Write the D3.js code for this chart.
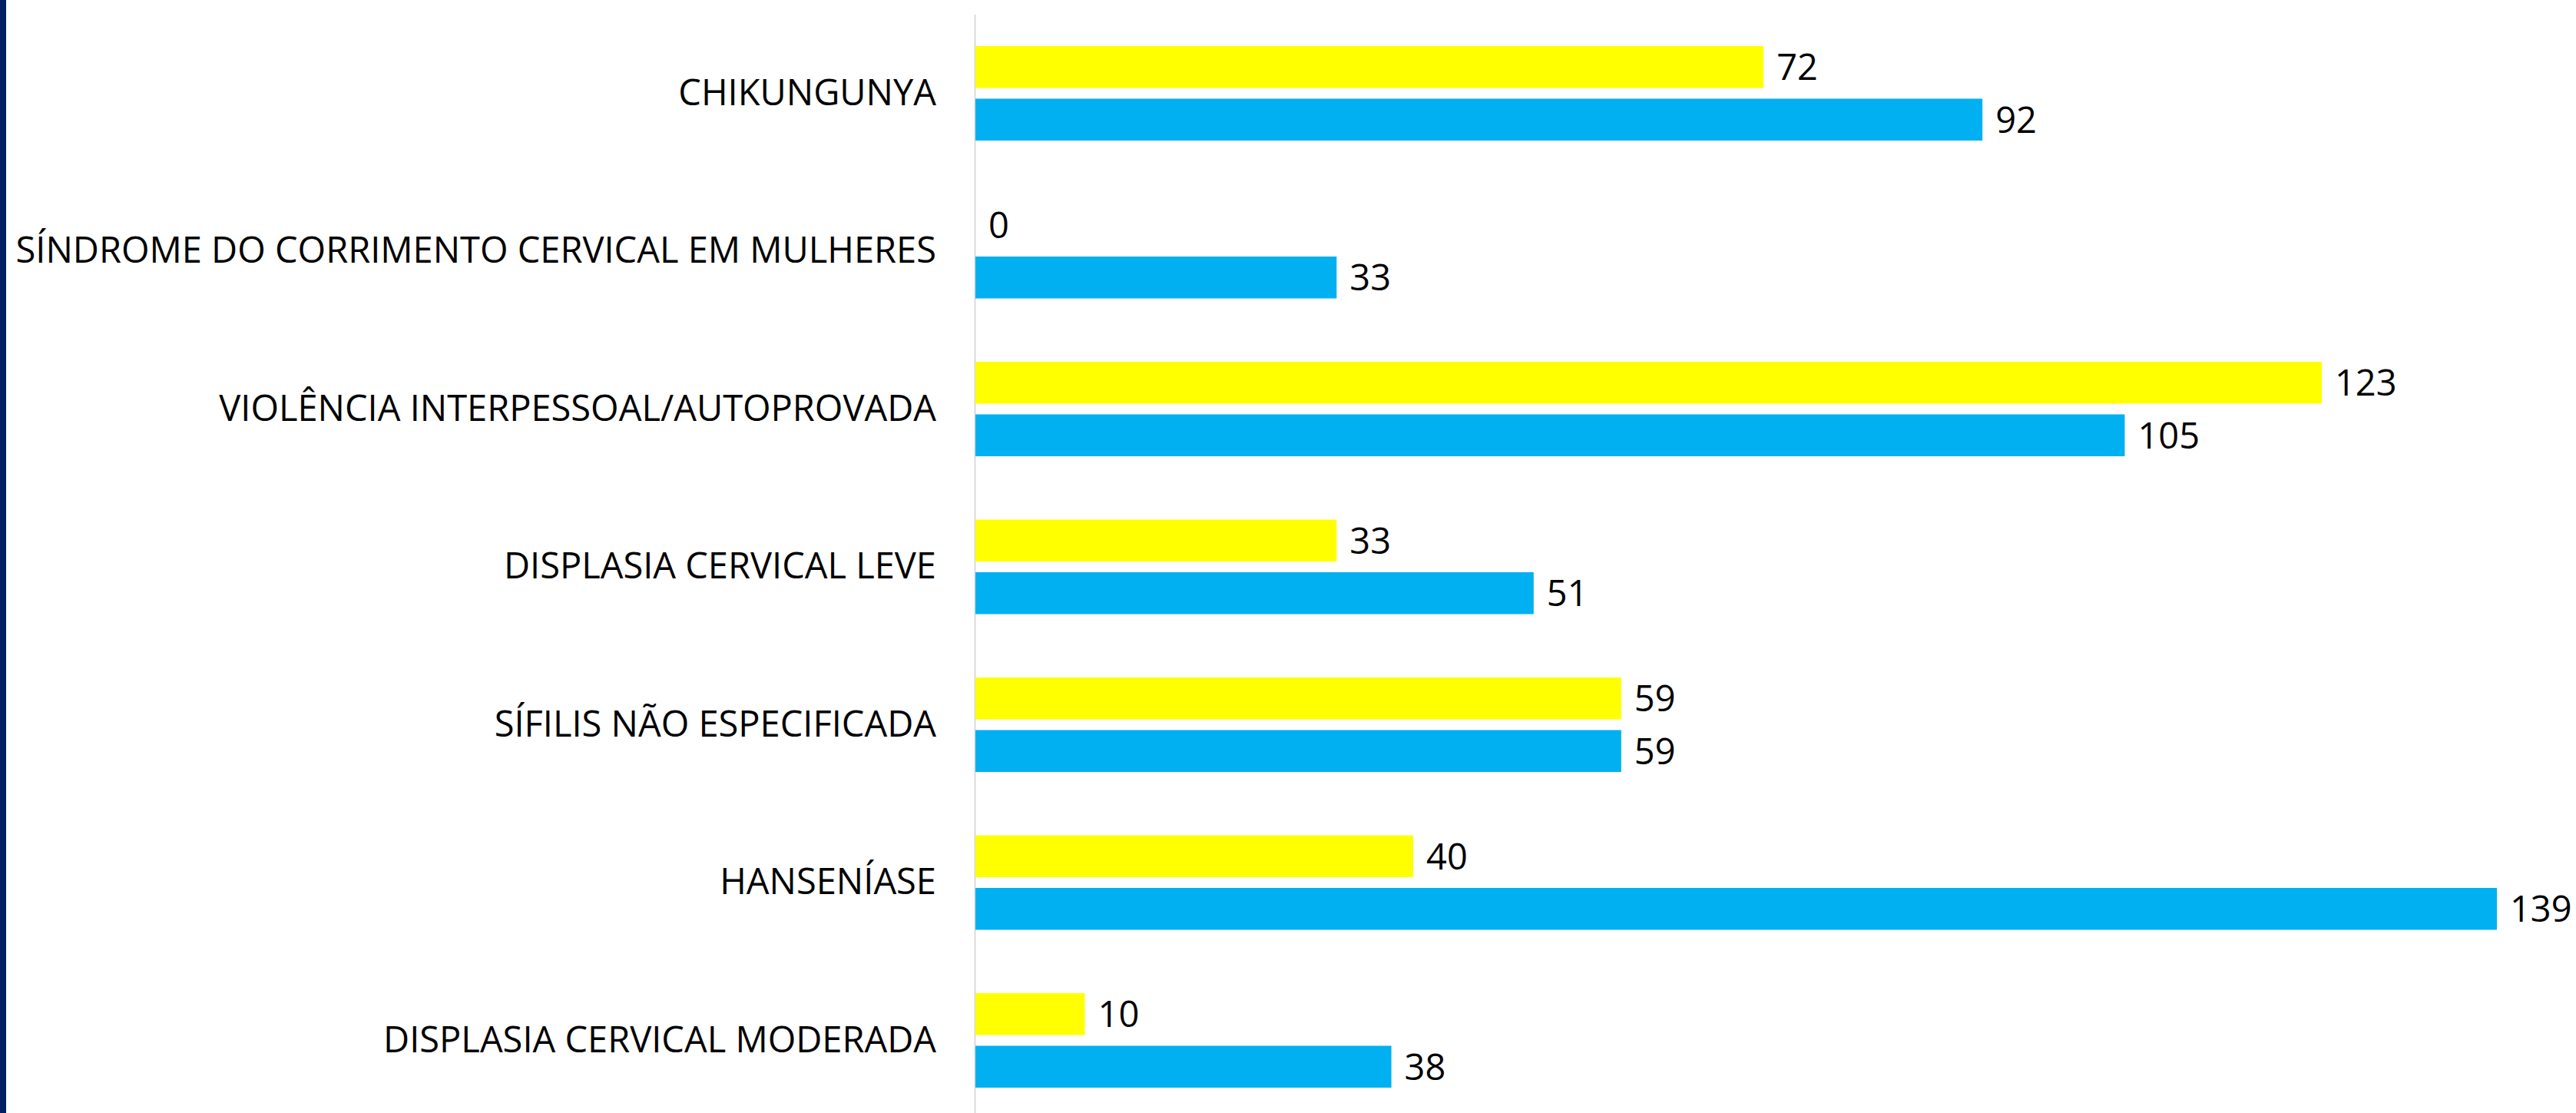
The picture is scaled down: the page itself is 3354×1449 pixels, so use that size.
<!DOCTYPE html>
<html lang="pt">
<head>
  <meta charset="UTF-8">
  <title>Agravos</title>
  <script src="https://cdn.jsdelivr.net/npm/d3@7"></script>
  <style>
    body { margin: 0; background: #fff; }
    text { font-family: "Open Sans", sans-serif; }
  </style>
</head>
<body>
  <svg class="bar-chart"></svg>
<script>
  var categories = [
    'CHIKUNGUNYA',
    'SÍNDROME DO CORRIMENTO CERVICAL EM MULHERES',
    'VIOLÊNCIA INTERPESSOAL/AUTOPROVADA',
    'DISPLASIA CERVICAL LEVE',
    'SÍFILIS NÃO ESPECIFICADA',
    'HANSENÍASE',
    'DISPLASIA CERVICAL MODERADA'
  ];
  var serieAmarela = [72, 0, 123, 33, 59, 40, 10];
  var serieAzul = [92, 33, 105, 51, 59, 139, 38];
  var seriesColors = ['#FFFF00', '#00B0F0'];

  var svgWidth = 3354;
  var svgHeight = 1449;
  var fontSize = 47;

  var svg = d3.select('.bar-chart')
    .attr('width', svgWidth)
    .attr('height', svgHeight);

  // faixa azul escura na borda esquerda
  svg.append('rect')
    .attr('x', 0).attr('y', 0)
    .attr('width', 8).attr('height', svgHeight)
    .attr('fill', '#002060');

  var x0 = 1270;
  var xScale = d3.scaleLinear()
    .domain([0, 139])
    .range([x0, 3251]);

  var yScale = d3.scaleBand()
    .domain(categories)
    .range([18.75, 18.75 + 205.5 * categories.length])
    .padding(0);

  var inner = d3.scaleBand()
    .domain([0, 1])
    .range([41.25, 164.25])
    .paddingInner(0.204)
    .paddingOuter(0);

  var yAxis = d3.axisLeft(yScale)
    .tickSize(0)
    .tickSizeOuter(0)
    .tickPadding(50);

  var axisG = svg.append('g')
    .attr('transform', 'translate(' + (x0 - 1) + ',0)')
    .call(yAxis);
  axisG.select('.domain').attr('stroke', '#d9d9d9').attr('stroke-width', 2);
  axisG.selectAll('text')
    .style('font-family', '"Open Sans", sans-serif')
    .style('font-size', fontSize + 'px')
    .attr('fill', '#000');

  var rows = categories.map(function(c, i) {
    return { cat: c, vals: [serieAmarela[i], serieAzul[i]] };
  });

  var group = svg.selectAll('g.cat')
    .data(rows)
    .enter()
    .append('g')
    .attr('class', 'cat')
    .attr('transform', function(d) { return 'translate(0,' + yScale(d.cat) + ')'; });

  var bars = group.selectAll('g.bar')
    .data(function(d) { return d.vals; })
    .enter()
    .append('g')
    .attr('class', 'bar');

  bars.append('rect')
    .attr('x', xScale(0))
    .attr('y', function(d, i) { return inner(i); })
    .attr('width', function(d) { return xScale(d) - xScale(0); })
    .attr('height', inner.bandwidth())
    .attr('fill', function(d, i) { return seriesColors[i]; });

  bars.append('text')
    .attr('x', function(d) { return xScale(d) + 17; })
    .attr('y', function(d, i) { return inner(i) + inner.bandwidth() / 2; })
    .attr('dy', '0.36em')
    .style('font-size', fontSize + 'px')
    .attr('fill', '#000')
    .text(function(d) { return d; });
</script>
</body>
</html>
